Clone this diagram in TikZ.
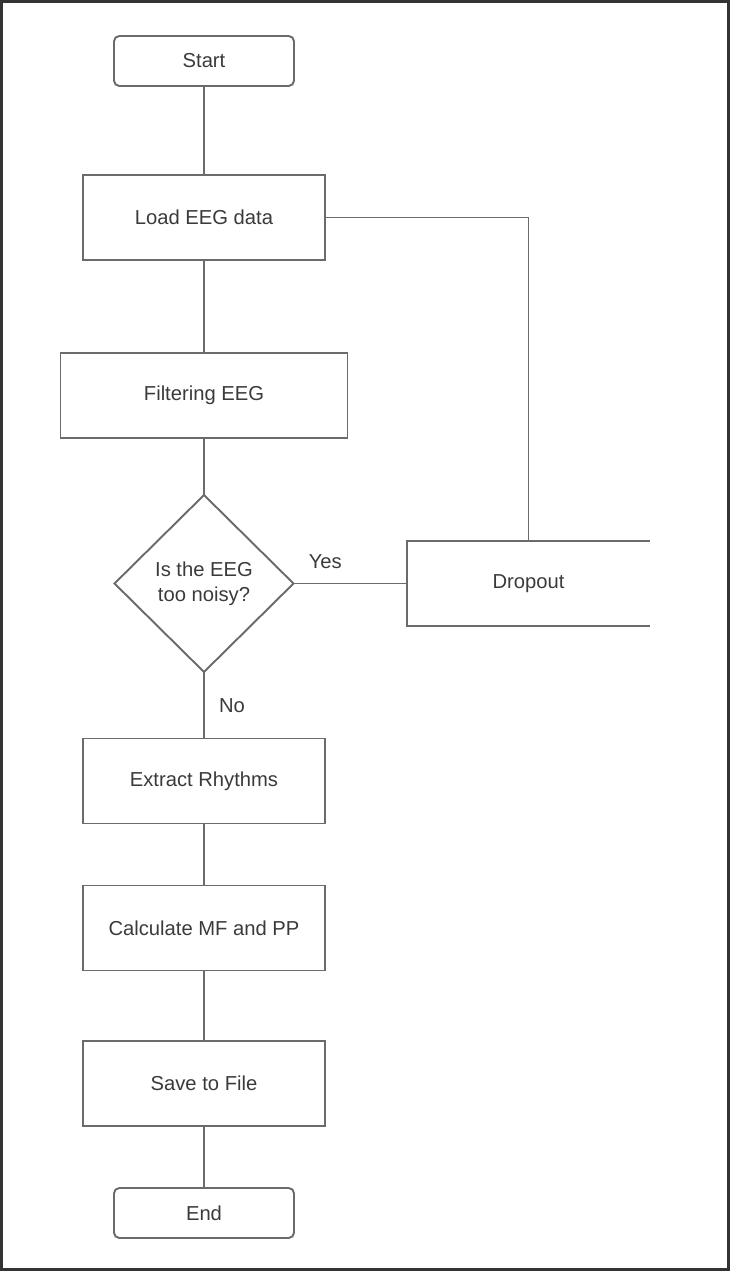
\documentclass[tikz,border=0pt]{standalone}
\usepackage{fontspec}
\setmainfont{Liberation Sans}
\usetikzlibrary{shapes.geometric,math}
\definecolor{linegray}{HTML}{6B6B6B}
\definecolor{textgray}{HTML}{3A3A3A}
\tikzset{
block/.style={draw=linegray,line width=1.1pt,minimum width=4.84cm,minimum height=1.7cm,inner sep=0pt,outer sep=0pt,text=textgray,font=\fontsize{11.5}{14}\selectfont},
term/.style={block,rounded corners=3pt,minimum width=3.6cm,minimum height=1cm},
decision/.style={block,diamond,minimum width=3.58cm,minimum height=3.54cm,align=center},
link/.style={draw=linegray,line width=1.1pt},
lbl/.style={text=textgray,font=\fontsize{11.5}{14}\selectfont,inner sep=0pt}
}

\begin{document}
\begin{tikzpicture}
	\tikzmath{\s = 0.02;} % one pixel of the reference
	\useasboundingbox (0,0) rectangle (730*\s,-1271*\s);
	% frame
	\draw[black!80,line width=0.05cm] (1.5*\s,-1.5*\s) rectangle (728.5*\s,-1269.5*\s);

	% blocks
	\node[term] (start) at (204*\s,-61*\s) {Start};
	\node[block] (load) at (204*\s,-217.5*\s) {Load EEG data};
	\node[block,minimum width=5.74cm] (filter) at (204*\s,-395.5*\s) {Filtering EEG};
	\node[decision] (noisy) at (204*\s,-583.5*\s) {Is the EEG\\too noisy?};
	\node[block,draw=none,minimum width=4.86cm] (dropout) at (528.5*\s,-583.5*\s) {Dropout};
	\node[block] (extract) at (204*\s,-781*\s) {Extract Rhythms};
	\node[block] (calc) at (204*\s,-928*\s) {Calculate MF and PP};
	\node[block] (save) at (204*\s,-1083.5*\s) {Save to File};
	\node[term] (end) at (204*\s,-1213*\s) {End};
	\draw[link] (dropout.north east) -- (dropout.north west) -- (dropout.south west) -- (dropout.south east);

	% connectors
	\draw[link] (start) -- (load);
	\draw[link] (load) -- (filter);
	\draw[link] (filter) -- (noisy);
	\draw[link] (noisy) -- (extract) node[lbl,midway,right=8pt] (no) {No};
	\draw[link] (noisy) -- (dropout) node[lbl,pos=0.28,above=8pt] (yes) {Yes};
	\draw[link] (load.east) -| (dropout.north);
	\draw[link] (extract) -- (calc);
	\draw[link] (calc) -- (save);
	\draw[link] (save) -- (end);
\end{tikzpicture}
\end{document}
